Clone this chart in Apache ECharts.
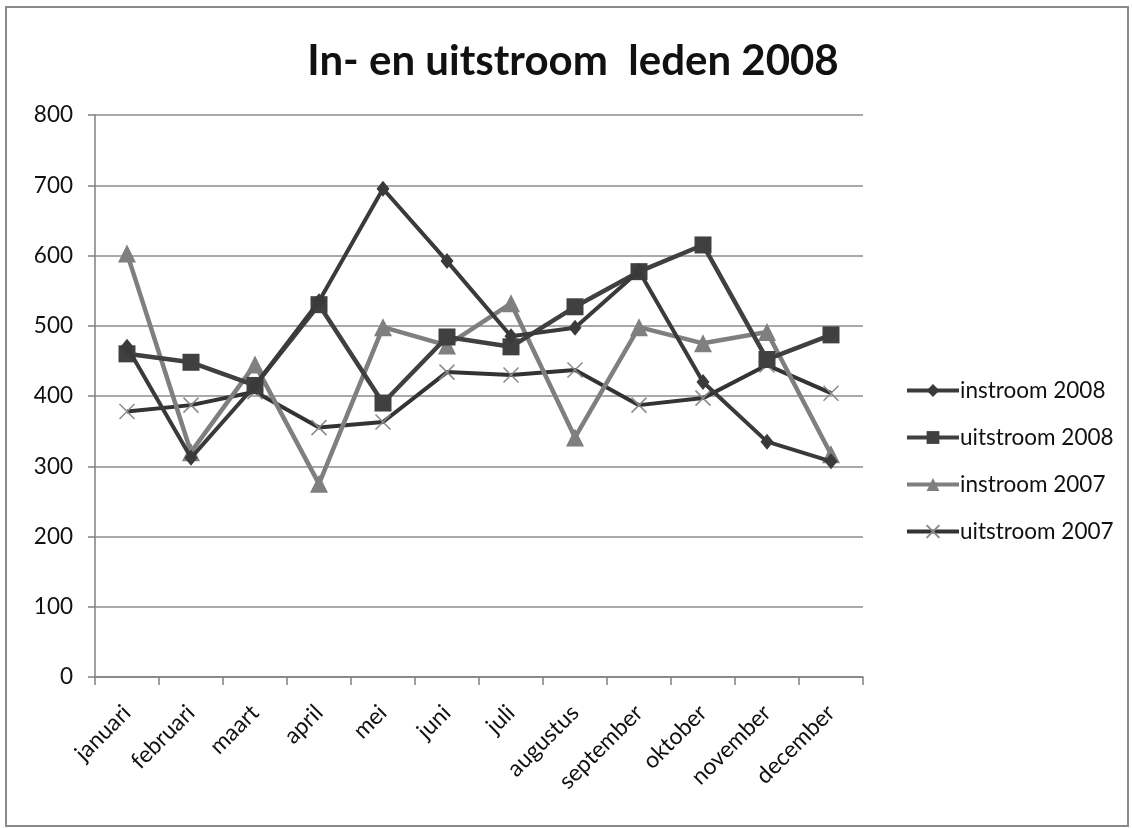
<!DOCTYPE html>
<html>
<head>
<meta charset="utf-8">
<script src="https://cdn.jsdelivr.net/npm/echarts@6/dist/echarts.min.js"></script>
<style>
html,body{margin:0;padding:0;background:#fff;}
#c{width:1132px;height:828px;}
</style>
</head>
<body>
<div id="c"></div>
<script>
const categories = ['januari','februari','maart','april','mei','juni','juli','augustus','september','oktober','november','december'];
const instroom2008 = [470, 312, 415, 535, 695, 592, 485, 497, 578, 420, 335, 307];
const uitstroom2008 = [460, 448, 415, 530, 390, 484, 470, 527, 577, 615, 452, 487];
const instroom2007 = [603, 320, 445, 275, 498, 472, 532, 341, 498, 475, 491, 317];
const uitstroom2007 = [378, 387, 406, 355, 363, 434, 430, 437, 387, 397, 444, 404];
const yTicks = {min: 0, max: 800, interval: 100};
const titleText = 'In- en uitstroom  leden 2008';
const seriesNames = ['instroom 2008','uitstroom 2008','instroom 2007','uitstroom 2007'];

const FONT = 'Lato';
const chart = echarts.init(document.getElementById('c'), null, {renderer: 'canvas'});
const crossPath = 'path://M0,0L10,10M10,0L0,10';

chart.setOption({
  backgroundColor: '#fff',
  animation: false,
  title: {
    text: titleText,
    left: 568, top: 35, textAlign: 'center',
    textStyle: {fontFamily: FONT, fontSize: 42, fontWeight: 'bold', color: '#111'}
  },
  graphic: [{
    type: 'rect', shape: {x: 6, y: 7, width: 1122, height: 819},
    style: {fill: 'none', stroke: '#8a8a8a', lineWidth: 2}, silent: true
  }],
  legend: {
    orient: 'vertical', left: 900, top: 374, itemGap: 24,
    itemWidth: 52, itemHeight: 16,
    lineStyle: {width: 4},
    textStyle: {fontFamily: FONT, fontSize: 22.5, color: '#111', padding: [0,0,0,-4]},
    data: seriesNames
  },
  grid: {left: 95, right: 269, top: 115, bottom: 151, containLabel: false},
  xAxis: {
    type: 'category', data: categories, boundaryGap: true,
    axisLine: {lineStyle: {color: '#808080', width: 1.5}},
    axisTick: {show: true, length: 8, lineStyle: {color: '#808080', width: 1.5}},
    axisLabel: {rotate: 45, fontFamily: FONT, fontSize: 23, color: '#111', margin: 32, interval: 0}
  },
  yAxis: {
    type: 'value', min: yTicks.min, max: yTicks.max, interval: yTicks.interval,
    axisLine: {show: true, lineStyle: {color: '#808080', width: 1.5}},
    axisTick: {show: true, length: 7, lineStyle: {color: '#808080', width: 1.5}},
    axisLabel: {fontFamily: FONT, fontSize: 22.5, color: '#111', margin: 22},
    splitLine: {lineStyle: {color: '#8c8c8c', width: 1.5}}
  },
  series: [
    {
      name: seriesNames[3], type: 'line', data: uitstroom2007, z: 2,
      symbol: crossPath, symbolSize: 15,
      lineStyle: {color: '#333', width: 4},
      itemStyle: {color: 'none', borderColor: '#8a8a8a', borderWidth: 1.5}
    },
    {
      name: seriesNames[2], type: 'line', data: instroom2007, z: 3,
      symbol: 'triangle', symbolSize: 18,
      lineStyle: {color: '#7f7f7f', width: 4.5},
      itemStyle: {color: '#7f7f7f'}
    },
    {
      name: seriesNames[1], type: 'line', data: uitstroom2008, z: 4,
      symbol: 'rect', symbolSize: 17,
      lineStyle: {color: '#404040', width: 4.5},
      itemStyle: {color: '#404040'}
    },
    {
      name: seriesNames[0], type: 'line', data: instroom2008, z: 5,
      symbol: 'diamond', symbolSize: [13, 16],
      lineStyle: {color: '#3a3a3a', width: 4},
      itemStyle: {color: '#3a3a3a'}
    }
  ]
});
</script>
</body>
</html>
